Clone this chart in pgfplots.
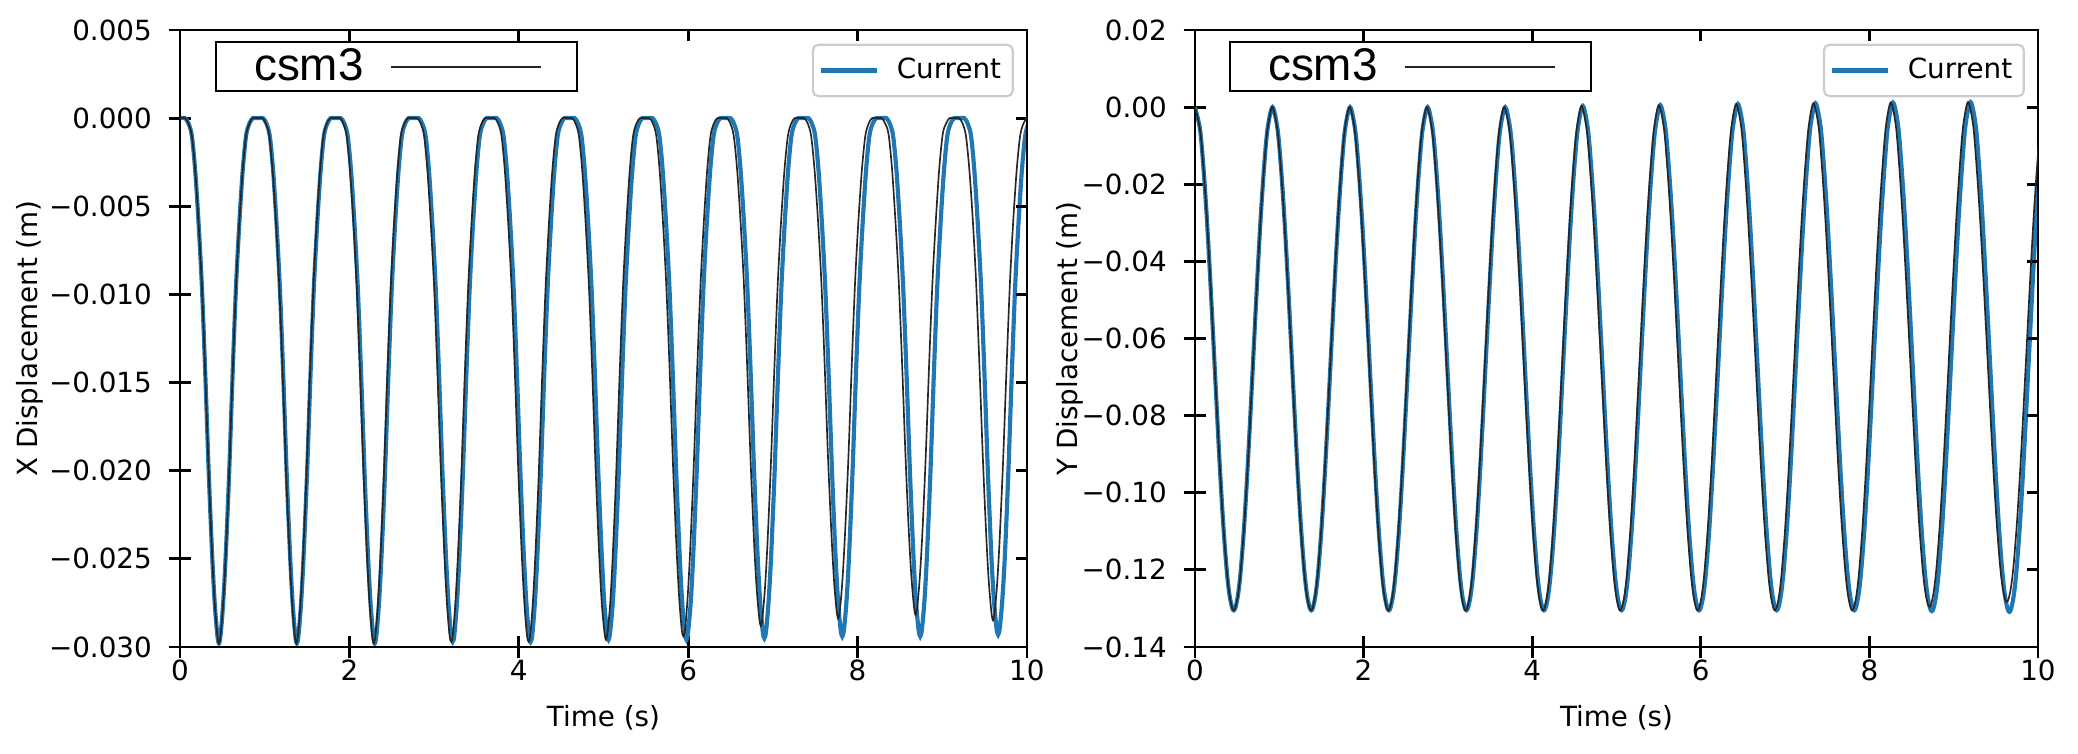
\documentclass[border=0pt]{standalone}
\usepackage{fontspec}
\setmainfont{DejaVu Sans}
\newfontfamily\csmfont{Liberation Sans}
\usepackage{pgfplots}
\usepackage{pgfplotstable}
\pgfplotsset{compat=1.18}
\definecolor{mplblue}{HTML}{1F77B4}

\pgfplotstableread{
t X Y
0.00 0.0000 0.0000
0.06 0.0000 -0.0058
0.10 -0.0003 -0.0155
0.14 -0.0010 -0.0285
0.18 -0.0030 -0.0442
0.22 -0.0060 -0.0613
0.26 -0.0097 -0.0787
0.30 -0.0147 -0.0953
0.34 -0.0202 -0.1097
0.38 -0.0248 -0.1209
0.41 -0.0275 -0.1266
0.44 -0.0293 -0.1298
0.46 -0.0298 -0.1305
0.48 -0.0293 -0.1298
0.51 -0.0275 -0.1266
0.54 -0.0248 -0.1209
0.58 -0.0202 -0.1097
0.62 -0.0147 -0.0953
0.66 -0.0097 -0.0787
0.70 -0.0060 -0.0613
0.74 -0.0030 -0.0442
0.78 -0.0010 -0.0285
0.82 -0.0003 -0.0155
0.86 0.0000 -0.0058
0.92 0.0000 0.0000
0.98 0.0000 -0.0058
1.02 -0.0003 -0.0155
1.06 -0.0010 -0.0285
1.10 -0.0030 -0.0442
1.14 -0.0060 -0.0613
1.18 -0.0097 -0.0787
1.22 -0.0147 -0.0953
1.26 -0.0202 -0.1097
1.30 -0.0248 -0.1209
1.33 -0.0275 -0.1266
1.36 -0.0293 -0.1298
1.38 -0.0298 -0.1305
1.40 -0.0293 -0.1298
1.43 -0.0275 -0.1266
1.46 -0.0248 -0.1209
1.50 -0.0202 -0.1097
1.54 -0.0147 -0.0953
1.58 -0.0097 -0.0787
1.62 -0.0060 -0.0613
1.66 -0.0030 -0.0442
1.70 -0.0010 -0.0285
1.74 -0.0003 -0.0155
1.78 0.0000 -0.0058
1.84 0.0000 0.0000
1.90 0.0000 -0.0058
1.94 -0.0003 -0.0155
1.98 -0.0010 -0.0285
2.02 -0.0030 -0.0442
2.06 -0.0060 -0.0613
2.10 -0.0097 -0.0787
2.14 -0.0147 -0.0953
2.18 -0.0202 -0.1097
2.22 -0.0248 -0.1209
2.25 -0.0275 -0.1266
2.28 -0.0293 -0.1298
2.30 -0.0298 -0.1305
2.32 -0.0293 -0.1298
2.35 -0.0275 -0.1266
2.38 -0.0248 -0.1209
2.42 -0.0202 -0.1097
2.46 -0.0147 -0.0953
2.50 -0.0097 -0.0787
2.54 -0.0060 -0.0613
2.58 -0.0030 -0.0442
2.62 -0.0010 -0.0285
2.66 -0.0003 -0.0155
2.70 0.0000 -0.0058
2.76 0.0000 0.0000
2.82 0.0000 -0.0058
2.86 -0.0003 -0.0155
2.90 -0.0010 -0.0285
2.94 -0.0030 -0.0442
2.98 -0.0060 -0.0613
3.02 -0.0097 -0.0787
3.06 -0.0147 -0.0953
3.10 -0.0202 -0.1097
3.14 -0.0248 -0.1209
3.17 -0.0275 -0.1266
3.20 -0.0293 -0.1298
3.22 -0.0297 -0.1305
3.24 -0.0293 -0.1298
3.27 -0.0275 -0.1266
3.30 -0.0248 -0.1209
3.34 -0.0202 -0.1097
3.38 -0.0147 -0.0953
3.42 -0.0097 -0.0787
3.46 -0.0060 -0.0613
3.50 -0.0030 -0.0442
3.54 -0.0010 -0.0285
3.58 -0.0003 -0.0155
3.62 0.0000 -0.0058
3.68 0.0000 0.0000
3.74 0.0000 -0.0058
3.78 -0.0003 -0.0155
3.82 -0.0010 -0.0285
3.86 -0.0030 -0.0442
3.90 -0.0060 -0.0613
3.94 -0.0097 -0.0787
3.98 -0.0147 -0.0953
4.02 -0.0202 -0.1097
4.06 -0.0248 -0.1209
4.09 -0.0275 -0.1266
4.12 -0.0293 -0.1298
4.14 -0.0297 -0.1305
4.16 -0.0293 -0.1298
4.19 -0.0275 -0.1266
4.22 -0.0248 -0.1209
4.26 -0.0202 -0.1097
4.30 -0.0147 -0.0953
4.34 -0.0097 -0.0787
4.38 -0.0060 -0.0613
4.42 -0.0030 -0.0442
4.46 -0.0010 -0.0285
4.50 -0.0003 -0.0155
4.54 0.0000 -0.0058
4.60 0.0000 0.0003
4.66 0.0000 -0.0056
4.70 -0.0003 -0.0155
4.74 -0.0010 -0.0285
4.78 -0.0030 -0.0442
4.82 -0.0060 -0.0613
4.86 -0.0097 -0.0787
4.90 -0.0147 -0.0953
4.94 -0.0202 -0.1097
4.98 -0.0248 -0.1209
5.01 -0.0275 -0.1266
5.04 -0.0291 -0.1298
5.06 -0.0296 -0.1305
5.08 -0.0291 -0.1298
5.11 -0.0275 -0.1266
5.14 -0.0248 -0.1209
5.18 -0.0202 -0.1097
5.22 -0.0147 -0.0953
5.26 -0.0097 -0.0787
5.30 -0.0060 -0.0613
5.34 -0.0030 -0.0442
5.38 -0.0010 -0.0285
5.42 -0.0003 -0.0155
5.46 0.0000 -0.0056
5.52 0.0000 0.0005
5.58 0.0000 -0.0054
5.62 -0.0003 -0.0154
5.66 -0.0010 -0.0285
5.70 -0.0030 -0.0442
5.74 -0.0060 -0.0613
5.78 -0.0097 -0.0787
5.82 -0.0147 -0.0953
5.86 -0.0202 -0.1097
5.90 -0.0248 -0.1209
5.93 -0.0275 -0.1266
5.96 -0.0291 -0.1298
5.98 -0.0296 -0.1305
6.00 -0.0291 -0.1298
6.03 -0.0275 -0.1266
6.06 -0.0248 -0.1209
6.10 -0.0202 -0.1097
6.14 -0.0147 -0.0953
6.18 -0.0097 -0.0787
6.22 -0.0060 -0.0613
6.26 -0.0030 -0.0442
6.30 -0.0010 -0.0285
6.34 -0.0003 -0.0154
6.38 0.0000 -0.0054
6.44 0.0000 0.0008
6.50 0.0000 -0.0051
6.54 -0.0003 -0.0153
6.58 -0.0010 -0.0284
6.62 -0.0030 -0.0442
6.66 -0.0060 -0.0613
6.70 -0.0097 -0.0787
6.74 -0.0147 -0.0953
6.78 -0.0202 -0.1097
6.82 -0.0248 -0.1209
6.85 -0.0274 -0.1266
6.88 -0.0291 -0.1298
6.90 -0.0295 -0.1305
6.92 -0.0291 -0.1298
6.95 -0.0274 -0.1266
6.98 -0.0248 -0.1209
7.02 -0.0202 -0.1097
7.06 -0.0147 -0.0953
7.10 -0.0097 -0.0787
7.14 -0.0060 -0.0613
7.18 -0.0030 -0.0442
7.22 -0.0010 -0.0284
7.26 -0.0003 -0.0153
7.30 0.0000 -0.0051
7.36 0.0000 0.0010
7.42 0.0000 -0.0049
7.46 -0.0003 -0.0152
7.50 -0.0010 -0.0284
7.54 -0.0030 -0.0442
7.58 -0.0060 -0.0613
7.62 -0.0097 -0.0787
7.66 -0.0147 -0.0953
7.70 -0.0202 -0.1097
7.74 -0.0248 -0.1209
7.77 -0.0274 -0.1266
7.80 -0.0290 -0.1298
7.82 -0.0294 -0.1305
7.84 -0.0290 -0.1298
7.87 -0.0274 -0.1266
7.90 -0.0248 -0.1209
7.94 -0.0202 -0.1097
7.98 -0.0147 -0.0953
8.02 -0.0097 -0.0787
8.06 -0.0060 -0.0613
8.10 -0.0030 -0.0442
8.14 -0.0010 -0.0284
8.18 -0.0003 -0.0152
8.22 0.0000 -0.0049
8.28 0.0000 0.0012
8.34 0.0000 -0.0047
8.38 -0.0003 -0.0151
8.42 -0.0010 -0.0283
8.46 -0.0030 -0.0442
8.50 -0.0060 -0.0613
8.54 -0.0097 -0.0787
8.58 -0.0147 -0.0954
8.62 -0.0202 -0.1098
8.66 -0.0248 -0.1211
8.69 -0.0274 -0.1268
8.72 -0.0290 -0.1300
8.74 -0.0294 -0.1307
8.76 -0.0290 -0.1300
8.79 -0.0274 -0.1268
8.82 -0.0248 -0.1211
8.86 -0.0202 -0.1098
8.90 -0.0147 -0.0954
8.94 -0.0097 -0.0787
8.98 -0.0060 -0.0613
9.02 -0.0030 -0.0442
9.06 -0.0010 -0.0283
9.10 -0.0003 -0.0151
9.14 0.0000 -0.0047
9.20 0.0000 0.0013
9.26 0.0000 -0.0046
9.30 -0.0003 -0.0150
9.34 -0.0010 -0.0283
9.38 -0.0030 -0.0443
9.42 -0.0060 -0.0614
9.46 -0.0097 -0.0789
9.50 -0.0147 -0.0956
9.54 -0.0202 -0.1100
9.58 -0.0248 -0.1213
9.61 -0.0273 -0.1270
9.64 -0.0289 -0.1302
9.66 -0.0293 -0.1309
9.68 -0.0289 -0.1302
9.71 -0.0273 -0.1270
9.74 -0.0248 -0.1213
9.78 -0.0202 -0.1100
9.82 -0.0147 -0.0956
9.86 -0.0097 -0.0789
9.90 -0.0060 -0.0614
9.94 -0.0030 -0.0443
9.98 -0.0010 -0.0283
10.02 -0.0003 -0.0150
10.06 0.0000 -0.0046
10.12 0.0000 0.0014
}\bluedata

\pgfplotstableread{
t X
0.000 0.0000
0.060 0.0000
0.100 -0.0003
0.140 -0.0010
0.180 -0.0030
0.220 -0.0060
0.260 -0.0097
0.300 -0.0147
0.340 -0.0202
0.380 -0.0248
0.410 -0.0275
0.440 -0.0293
0.460 -0.0298
0.480 -0.0293
0.510 -0.0275
0.540 -0.0248
0.580 -0.0202
0.620 -0.0147
0.660 -0.0097
0.700 -0.0060
0.740 -0.0030
0.780 -0.0010
0.820 -0.0003
0.860 0.0000
0.914 0.0000
0.974 0.0000
1.014 -0.0003
1.054 -0.0010
1.094 -0.0030
1.134 -0.0060
1.174 -0.0097
1.214 -0.0147
1.254 -0.0202
1.294 -0.0248
1.324 -0.0275
1.354 -0.0293
1.374 -0.0298
1.394 -0.0293
1.424 -0.0275
1.454 -0.0248
1.494 -0.0202
1.534 -0.0147
1.574 -0.0097
1.614 -0.0060
1.654 -0.0030
1.694 -0.0010
1.734 -0.0003
1.774 0.0000
1.828 0.0000
1.888 0.0000
1.928 -0.0003
1.968 -0.0010
2.008 -0.0030
2.048 -0.0060
2.088 -0.0097
2.128 -0.0147
2.168 -0.0202
2.208 -0.0248
2.238 -0.0275
2.268 -0.0293
2.288 -0.0298
2.308 -0.0293
2.338 -0.0275
2.368 -0.0248
2.408 -0.0202
2.448 -0.0147
2.488 -0.0097
2.528 -0.0060
2.568 -0.0030
2.608 -0.0010
2.648 -0.0003
2.688 0.0000
2.742 0.0000
2.802 0.0000
2.842 -0.0003
2.882 -0.0010
2.922 -0.0030
2.962 -0.0060
3.002 -0.0097
3.042 -0.0147
3.082 -0.0202
3.122 -0.0248
3.152 -0.0275
3.182 -0.0293
3.202 -0.0297
3.222 -0.0293
3.252 -0.0275
3.282 -0.0248
3.322 -0.0202
3.362 -0.0147
3.402 -0.0097
3.442 -0.0060
3.482 -0.0030
3.522 -0.0010
3.562 -0.0003
3.602 0.0000
3.656 0.0000
3.716 0.0000
3.756 -0.0003
3.796 -0.0010
3.836 -0.0030
3.876 -0.0060
3.916 -0.0097
3.956 -0.0147
3.996 -0.0202
4.036 -0.0248
4.066 -0.0275
4.096 -0.0293
4.116 -0.0297
4.136 -0.0293
4.166 -0.0275
4.196 -0.0248
4.236 -0.0202
4.276 -0.0147
4.316 -0.0097
4.356 -0.0060
4.396 -0.0030
4.436 -0.0010
4.476 -0.0003
4.516 0.0000
4.570 0.0000
4.630 0.0000
4.670 -0.0003
4.710 -0.0010
4.750 -0.0030
4.790 -0.0060
4.830 -0.0097
4.870 -0.0147
4.910 -0.0202
4.950 -0.0248
4.980 -0.0275
5.010 -0.0291
5.030 -0.0296
5.050 -0.0291
5.080 -0.0275
5.110 -0.0248
5.150 -0.0202
5.190 -0.0147
5.230 -0.0097
5.270 -0.0060
5.310 -0.0030
5.350 -0.0010
5.390 -0.0003
5.430 0.0000
5.484 0.0000
5.544 0.0000
5.584 -0.0003
5.624 -0.0010
5.664 -0.0030
5.704 -0.0060
5.744 -0.0097
5.784 -0.0146
5.824 -0.0200
5.864 -0.0245
5.894 -0.0272
5.924 -0.0290
5.944 -0.0294
5.964 -0.0290
5.994 -0.0272
6.024 -0.0245
6.064 -0.0200
6.104 -0.0146
6.144 -0.0097
6.184 -0.0060
6.224 -0.0030
6.264 -0.0010
6.304 -0.0003
6.344 0.0000
6.398 0.0000
6.458 0.0000
6.498 -0.0003
6.538 -0.0010
6.578 -0.0029
6.618 -0.0058
6.658 -0.0094
6.698 -0.0142
6.738 -0.0195
6.778 -0.0240
6.808 -0.0266
6.838 -0.0283
6.858 -0.0288
6.878 -0.0283
6.908 -0.0266
6.938 -0.0240
6.978 -0.0195
7.018 -0.0142
7.058 -0.0094
7.098 -0.0058
7.138 -0.0029
7.178 -0.0010
7.218 -0.0003
7.258 0.0000
7.312 0.0000
7.372 0.0000
7.412 -0.0003
7.452 -0.0010
7.492 -0.0029
7.532 -0.0057
7.572 -0.0092
7.612 -0.0140
7.652 -0.0193
7.692 -0.0236
7.722 -0.0262
7.752 -0.0279
7.772 -0.0284
7.792 -0.0279
7.822 -0.0262
7.852 -0.0236
7.892 -0.0193
7.932 -0.0140
7.972 -0.0092
8.012 -0.0057
8.052 -0.0029
8.092 -0.0010
8.132 -0.0003
8.172 0.0000
8.226 0.0000
8.286 0.0000
8.326 -0.0003
8.366 -0.0009
8.406 -0.0028
8.446 -0.0057
8.486 -0.0092
8.526 -0.0139
8.566 -0.0191
8.606 -0.0235
8.636 -0.0260
8.666 -0.0277
8.686 -0.0282
8.706 -0.0277
8.736 -0.0260
8.766 -0.0235
8.806 -0.0191
8.846 -0.0139
8.886 -0.0092
8.926 -0.0057
8.966 -0.0028
9.006 -0.0009
9.046 -0.0003
9.086 0.0000
9.140 0.0000
9.200 0.0000
9.240 -0.0003
9.280 -0.0010
9.320 -0.0029
9.360 -0.0057
9.400 -0.0093
9.440 -0.0141
9.480 -0.0193
9.520 -0.0237
9.550 -0.0263
9.580 -0.0280
9.600 -0.0285
9.620 -0.0280
9.650 -0.0263
9.680 -0.0237
9.720 -0.0193
9.760 -0.0141
9.800 -0.0093
9.840 -0.0057
9.880 -0.0029
9.920 -0.0010
9.960 -0.0003
10.000 0.0000
10.054 0.0000
}\blackXdata

\pgfplotstableread{
t Y
0.000 0.0000
0.060 -0.0058
0.100 -0.0155
0.140 -0.0285
0.180 -0.0442
0.220 -0.0613
0.260 -0.0787
0.300 -0.0953
0.340 -0.1097
0.380 -0.1209
0.410 -0.1266
0.440 -0.1298
0.460 -0.1305
0.480 -0.1298
0.510 -0.1266
0.540 -0.1209
0.580 -0.1097
0.620 -0.0953
0.660 -0.0787
0.700 -0.0613
0.740 -0.0442
0.780 -0.0285
0.820 -0.0155
0.860 -0.0058
0.917 0.0000
0.977 -0.0058
1.017 -0.0155
1.057 -0.0285
1.097 -0.0442
1.137 -0.0613
1.177 -0.0787
1.217 -0.0953
1.257 -0.1097
1.297 -0.1209
1.327 -0.1266
1.357 -0.1298
1.377 -0.1305
1.397 -0.1298
1.427 -0.1266
1.457 -0.1209
1.497 -0.1097
1.537 -0.0953
1.577 -0.0787
1.617 -0.0613
1.657 -0.0442
1.697 -0.0285
1.737 -0.0155
1.777 -0.0058
1.834 0.0000
1.894 -0.0058
1.934 -0.0155
1.974 -0.0285
2.014 -0.0442
2.054 -0.0613
2.094 -0.0787
2.134 -0.0953
2.174 -0.1097
2.214 -0.1209
2.244 -0.1266
2.274 -0.1298
2.294 -0.1305
2.314 -0.1298
2.344 -0.1266
2.374 -0.1209
2.414 -0.1097
2.454 -0.0953
2.494 -0.0787
2.534 -0.0613
2.574 -0.0442
2.614 -0.0285
2.654 -0.0155
2.694 -0.0058
2.751 0.0000
2.811 -0.0058
2.851 -0.0155
2.891 -0.0285
2.931 -0.0442
2.971 -0.0613
3.011 -0.0787
3.051 -0.0953
3.091 -0.1097
3.131 -0.1209
3.161 -0.1266
3.191 -0.1298
3.211 -0.1305
3.231 -0.1298
3.261 -0.1266
3.291 -0.1209
3.331 -0.1097
3.371 -0.0953
3.411 -0.0787
3.451 -0.0613
3.491 -0.0442
3.531 -0.0285
3.571 -0.0155
3.611 -0.0058
3.668 0.0000
3.728 -0.0058
3.768 -0.0155
3.808 -0.0285
3.848 -0.0442
3.888 -0.0613
3.928 -0.0787
3.968 -0.0953
4.008 -0.1097
4.048 -0.1209
4.078 -0.1266
4.108 -0.1298
4.128 -0.1305
4.148 -0.1298
4.178 -0.1266
4.208 -0.1209
4.248 -0.1097
4.288 -0.0953
4.328 -0.0787
4.368 -0.0613
4.408 -0.0442
4.448 -0.0285
4.488 -0.0155
4.528 -0.0058
4.585 0.0003
4.645 -0.0056
4.685 -0.0155
4.725 -0.0285
4.765 -0.0442
4.805 -0.0613
4.845 -0.0787
4.885 -0.0953
4.925 -0.1097
4.965 -0.1209
4.995 -0.1266
5.025 -0.1298
5.045 -0.1305
5.065 -0.1298
5.095 -0.1266
5.125 -0.1209
5.165 -0.1097
5.205 -0.0953
5.245 -0.0787
5.285 -0.0613
5.325 -0.0442
5.365 -0.0285
5.405 -0.0155
5.445 -0.0056
5.502 0.0005
5.562 -0.0054
5.602 -0.0154
5.642 -0.0285
5.682 -0.0442
5.722 -0.0613
5.762 -0.0787
5.802 -0.0953
5.842 -0.1097
5.882 -0.1209
5.912 -0.1266
5.942 -0.1298
5.962 -0.1305
5.982 -0.1298
6.012 -0.1266
6.042 -0.1209
6.082 -0.1097
6.122 -0.0953
6.162 -0.0787
6.202 -0.0613
6.242 -0.0442
6.282 -0.0285
6.322 -0.0154
6.362 -0.0054
6.419 0.0008
6.479 -0.0051
6.519 -0.0153
6.559 -0.0284
6.599 -0.0442
6.639 -0.0613
6.679 -0.0787
6.719 -0.0953
6.759 -0.1097
6.799 -0.1209
6.829 -0.1266
6.859 -0.1298
6.879 -0.1305
6.899 -0.1298
6.929 -0.1266
6.959 -0.1209
6.999 -0.1097
7.039 -0.0953
7.079 -0.0787
7.119 -0.0613
7.159 -0.0442
7.199 -0.0284
7.239 -0.0153
7.279 -0.0051
7.336 0.0010
7.396 -0.0049
7.436 -0.0152
7.476 -0.0284
7.516 -0.0442
7.556 -0.0613
7.596 -0.0787
7.636 -0.0953
7.676 -0.1097
7.716 -0.1209
7.746 -0.1266
7.776 -0.1298
7.796 -0.1305
7.816 -0.1298
7.846 -0.1266
7.876 -0.1209
7.916 -0.1097
7.956 -0.0953
7.996 -0.0787
8.036 -0.0613
8.076 -0.0442
8.116 -0.0284
8.156 -0.0152
8.196 -0.0049
8.253 0.0012
8.313 -0.0047
8.353 -0.0151
8.393 -0.0283
8.433 -0.0440
8.473 -0.0609
8.513 -0.0782
8.553 -0.0947
8.593 -0.1090
8.633 -0.1201
8.663 -0.1257
8.693 -0.1289
8.713 -0.1296
8.733 -0.1289
8.763 -0.1257
8.793 -0.1201
8.833 -0.1090
8.873 -0.0947
8.913 -0.0782
8.953 -0.0609
8.993 -0.0440
9.033 -0.0283
9.073 -0.0151
9.113 -0.0047
9.170 0.0013
9.230 -0.0046
9.270 -0.0150
9.310 -0.0280
9.350 -0.0435
9.390 -0.0603
9.430 -0.0774
9.470 -0.0937
9.510 -0.1078
9.550 -0.1189
9.580 -0.1245
9.610 -0.1276
9.630 -0.1283
9.650 -0.1276
9.680 -0.1245
9.710 -0.1189
9.750 -0.1078
9.790 -0.0937
9.830 -0.0774
9.870 -0.0603
9.910 -0.0435
9.950 -0.0280
9.990 -0.0150
10.030 -0.0046
10.087 0.0014
}\blackYdata

\pgfplotsset{
  panel/.style={scale only axis, height=222.1pt, xmin=0, xmax=10,
    axis line style={line width=1pt},
    major tick style={line width=1pt, black},
    scaled ticks=false, xtick={0,2,4,6,8,10}},
  lowerpanel/.style={panel, xtick pos=left, ytick pos=left, tick align=center,
    major tick length=8pt, xticklabels={0,2,4,6,8,10},
    xticklabel style={yshift=2.9pt}, yticklabel style={xshift=-2.6pt},
    xlabel style={at={(axis description cs:0.5,-0.1153)}, anchor=center},
    legend style={at={(1,1)}, anchor=north east, xshift=-4.7pt, yshift=-4.9pt,
      draw=black!20, line width=0.8pt, rounded corners=2pt, fill=white,
      inner xsep=2.2pt, inner ysep=2.8pt, column sep=4.5pt},
    legend image code/.code={\draw[#1] (0pt,0pt) -- (20pt,0pt);}},
  upperpanel/.style={panel, xtick pos=right, ytick pos=right, tick align=inside,
    major tick length=4pt, xticklabels={}, yticklabels={},
    legend plot pos=right,
    legend style={anchor=north west, draw=black, line width=0.8pt,
      sharp corners, fill=white, font=\csmfont\fontsize{16.5}{18}\selectfont,
      inner xsep=11.7pt, inner ysep=0.3pt, column sep=7.5pt},
    legend image code/.code={\draw[#1] (0pt,0pt) -- (54pt,0pt); \path (55pt,0pt);}},
}

\begin{document}
\begin{tikzpicture}
\useasboundingbox (-64.8pt,-38.2pt) rectangle (683.3pt,232.9pt);
% ---------- left panel ----------
\begin{axis}[lowerpanel, width=304.9pt, at={(0pt,0pt)},
  ymin=-0.030, ymax=0.005,
  ytick={-0.030,-0.025,-0.020,-0.015,-0.010,-0.005,0,0.005},
  yticklabels={−0.030,−0.025,−0.020,−0.015,−0.010,−0.005,0.000,0.005},
  xlabel={Time (s)}, ylabel={X Displacement (m)},
  ylabel style={at={(axis description cs:-0.177,0.5)}, anchor=center}]
\addplot[mplblue, line width=1.5pt, smooth] table[x=t, y=X] {\bluedata};
\addlegendentry{Current}
\end{axis}
\begin{axis}[upperpanel, width=304.9pt, at={(0pt,0pt)},
  ymin=-0.030, ymax=0.005,
  ytick={-0.030,-0.025,-0.020,-0.015,-0.010,-0.005,0,0.005},
  legend style={at={(0.0413,0.982)}}]
\addplot[black!85, line width=0.6pt, smooth] table[x=t, y=X] {\blackXdata};
\addlegendentry{csm3}
\end{axis}
% ---------- right panel ----------
\begin{axis}[lowerpanel, width=303.5pt, at={(365.4pt,0pt)},
  ymin=-0.14, ymax=0.02,
  ytick={-0.14,-0.12,-0.10,-0.08,-0.06,-0.04,-0.02,0,0.02},
  yticklabels={−0.14,−0.12,−0.10,−0.08,−0.06,−0.04,−0.02,0.00,0.02},
  xlabel={Time (s)}, ylabel={Y Displacement (m)},
  ylabel style={at={(axis description cs:-0.149,0.5)}, anchor=center}]
\addplot[mplblue, line width=1.5pt, smooth] table[x=t, y=Y] {\bluedata};
\addlegendentry{Current}
\end{axis}
\begin{axis}[upperpanel, width=303.5pt, at={(365.4pt,0pt)},
  ymin=-0.14, ymax=0.02,
  ytick={-0.14,-0.12,-0.10,-0.08,-0.06,-0.04,-0.02,0,0.02},
  legend style={at={(0.0403,0.982)}}]
\addplot[black!85, line width=0.6pt, smooth] table[x=t, y=Y] {\blackYdata};
\addlegendentry{csm3}
\end{axis}
\end{tikzpicture}
\end{document}
